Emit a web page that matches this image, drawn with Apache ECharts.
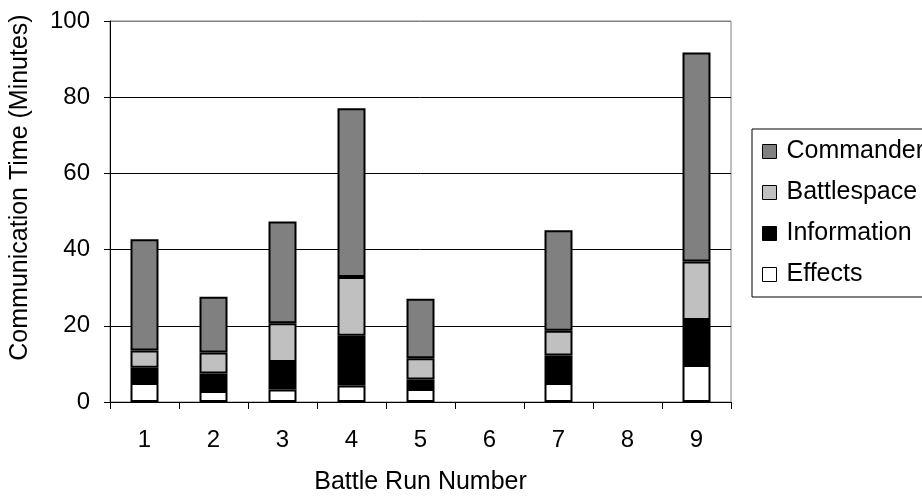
<!DOCTYPE html>
<html>
<head>
<meta charset="utf-8">
<script src="https://cdn.jsdelivr.net/npm/echarts@6/dist/echarts.min.js"></script>
<style>html,body{margin:0;padding:0;background:#fff;}#c{width:922px;height:500px;}</style>
</head>
<body>
<div id="c"></div>
<script>
const categories = ['1','2','3','4','5','6','7','8','9'];
const effects     = [5.0, 2.9, 3.3, 4.3, 3.4, '-', 5.0, '-', 9.7];
const information = [4.0, 4.6, 7.2, 13.1, 2.5, '-', 7.2, '-', 11.8];
const battlespace = [4.5, 5.5, 10.2, 15.4, 5.6, '-', 6.5, '-', 15.4];
const commander   = [29.2, 14.6, 26.7, 44.3, 15.6, '-', 26.4, '-', 54.8];
const yTicks = [0, 20, 40, 60, 80, 100];

const FONT = '"Liberation Sans", Arial, sans-serif';
const chart = echarts.init(document.getElementById('c'), null, {renderer: 'canvas'});

function mk(name, data, color) {
  return {
    name: name, type: 'bar', stack: 'total', data: data, barWidth: 28,
    itemStyle: {color: color, borderColor: '#000', borderWidth: 2},
    emphasis: {disabled: true}, animation: false
  };
}

chart.setOption({
  animation: false,
  backgroundColor: '#fff',
  textStyle: {fontFamily: FONT, color: '#000'},
  grid: {left: 110, right: 191, top: 21, bottom: 95, show: true, borderColor: '#808080', borderWidth: 1, backgroundColor: 'transparent'},
  legend: {
    orient: 'vertical', left: 752, top: 129,
    padding: [10, 60, 10, 10], itemGap: 16,
    itemWidth: 14, itemHeight: 14,
    borderColor: '#000', borderWidth: 1,
    icon: 'rect',
    itemStyle: {borderColor: '#000', borderWidth: 1},
    textStyle: {fontFamily: FONT, fontSize: 25, color: '#000', padding: [0, 0, 0, 5]},
    data: ['Commander', 'Battlespace', 'Information', 'Effects']
  },
  xAxis: {
    type: 'category', data: categories,
    name: 'Battle Run Number', nameLocation: 'middle', nameGap: 68,
    nameTextStyle: {fontFamily: FONT, fontSize: 25, color: '#000'},
    axisLine: {lineStyle: {color: '#000', width: 1}},
    axisTick: {show: true, alignWithLabel: false, length: 7, lineStyle: {color: '#000'}},
    axisLabel: {fontFamily: FONT, fontSize: 24, color: '#000', margin: 26}
  },
  yAxis: {
    type: 'value', min: yTicks[0], max: yTicks[yTicks.length - 1], interval: 20,
    name: 'Communication Time (Minutes)', nameLocation: 'middle', nameGap: 77,
    nameTextStyle: {fontFamily: FONT, fontSize: 25, color: '#000', padding: [0, 0, 0, 48]},
    axisLine: {show: true, lineStyle: {color: '#000', width: 1}},
    axisTick: {show: true, length: 6, lineStyle: {color: '#000'}},
    axisLabel: {fontFamily: FONT, fontSize: 24, color: '#000', margin: 20},
    splitLine: {show: true, lineStyle: {color: ['#000', '#000', '#000', '#000', '#000', '#808080'], width: 1}}
  },
  series: [
    mk('Effects', effects, '#ffffff'),
    mk('Information', information, '#000000'),
    mk('Battlespace', battlespace, '#c0c0c0'),
    mk('Commander', commander, '#808080')
  ]
});
</script>
</body>
</html>
